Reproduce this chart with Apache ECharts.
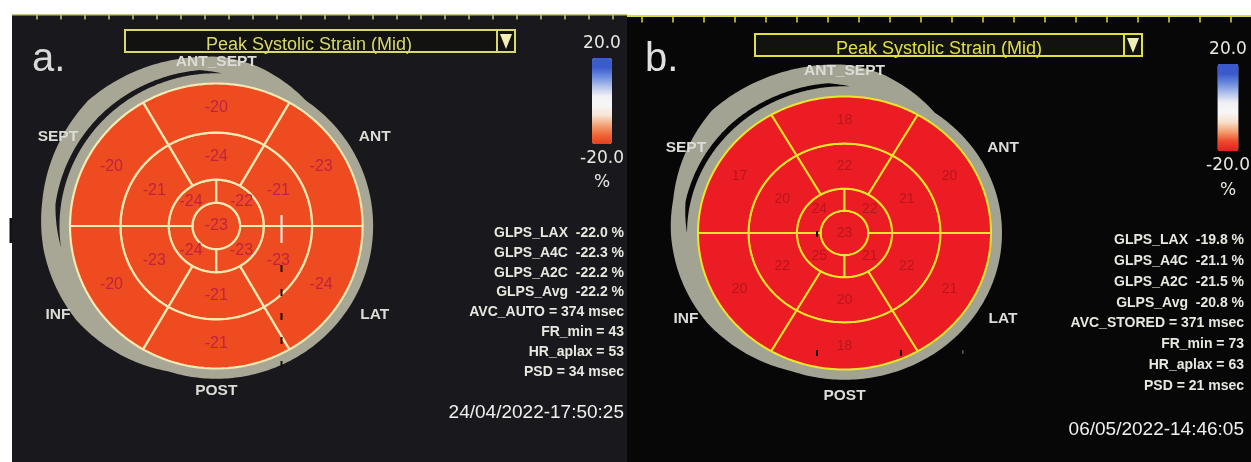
<!DOCTYPE html>
<html><head><meta charset="utf-8">
<script src="https://cdn.jsdelivr.net/npm/echarts@6/dist/echarts.min.js"></script>
<style>html,body{margin:0;padding:0;background:#fff}#c{width:1251px;height:462px}</style>
</head><body><div id="c"></div>
<script>
// ---------------- data ----------------
const wallNames  = ['ANT_SEPT','SEPT','INF','POST','LAT','ANT'];
const wallAngles = [90,150,210,270,330,30];
// segment order: basal/mid = [ANT_SEPT, SEPT, INF, POST, LAT, ANT]; apical = [UL, LL, LR, UR]
const basalA  = [-20,-20,-20,-21,-24,-23];
const midA    = [-24,-21,-23,-21,-23,-21];
const apicalA = [-24,-24,-23,-22];
const apexA   = [-23];
const basalB  = [18,17,20,18,21,20];
const midB    = [22,20,22,20,22,21];
const apicalB = [24,25,21,22];
const apexB   = [23];
const scaleMax = 20, scaleMin = -20;
const scaleText = ['20.0','-20.0'];
const scaleUnit = '%';
const glpsNames = ['GLPS_LAX','GLPS_A4C','GLPS_A2C','GLPS_Avg'];
const glpsA = [-22.0,-22.3,-22.2,-22.2];
const glpsB = [-19.8,-21.1,-21.5,-20.8];
const infoA = ['AVC_AUTO = 374 msec','FR_min = 43','HR_aplax = 53','PSD = 34 msec'];
const infoB = ['AVC_STORED = 371 msec','FR_min = 73','HR_aplax = 63','PSD = 21 msec'];
const dateA = '24/04/2022-17:50:25';
const dateB = '06/05/2022-14:46:05';
const titleText = 'Peak Systolic Strain (Mid)';
const panelLabels = ['a.','b.'];

// ---------------- layout ----------------
const RING_R = [0, 0.163, 0.325, 0.655, 1.0];
const RING_N = [1, 4, 6, 6];
const RING_START = [0, 90, 60, 60];
const EXT = 1.4;
const P = [
  {cx:216.3, cy:226, rx:146.3, ry:142.5, bg:'#19191d', fill:'#ee4c20', line:'#f3e9b2', lw:2.2,
   txt:'#c0233f', font:'16px "Liberation Sans"', grey:'#a8a694', wallR:1.072,
   cres:[[55,0,0],[75,0.08,0],[88,0.115,0],[96,0.12,0.028],[135,0.17,0.038],[172,0.13,0.038],[188,0.12,0],[215,0.09,0],[252,0,0]],
   dirTB:1.155, dirSide:1.25, dirFill:'#dcdcd6',
   basal:basalA, mid:midA, apical:apicalA, apex:apexA},
  {cx:844.5, cy:233, rx:146.5, ry:136.5, bg:'#070707', fill:'#ec1c24', line:'#ece62a', lw:2,
   txt:'#b8161c', font:'14px "Liberation Sans"', grey:'#a3a394', wallR:1.075,
   cres:[[55,0,0],[78,0.12,0],[88,0.155,0],[96,0.165,0.028],[135,0.2,0.038],[168,0.12,0.034],[180,0.11,0],[215,0.07,0],[250,0,0]],
   dirTB:1.19, dirSide:1.25, dirFill:'#dcdcd8',
   basal:basalB, mid:midB, apical:apicalB, apex:apexB}
];

function interp(cp, th, j){
  if (th <= cp[0][0] || th >= cp[cp.length-1][0]) return 0;
  for (let i=0;i<cp.length-1;i++){
    if (th>=cp[i][0] && th<=cp[i+1][0]){
      const t=(th-cp[i][0])/(cp[i+1][0]-cp[i][0]);
      return cp[i][j]+(cp[i+1][j]-cp[i][j])*t;
    }
  }
  return 0;
}
function mkPt(api){
  return (r,a)=>api.coord([r*Math.cos(a*Math.PI/180), r*Math.sin(a*Math.PI/180)]);
}
function wallRender(p){
  return function(params, api){
    const pt = mkPt(api);
    const outer=[];
    for (let a=0;a<360;a+=1) outer.push(pt(p.wallR+interp(p.cres,a,1),a));
    let gi0=-1, gi1=-1;
    p.cres.forEach((c,i)=>{ if (c[2]>0){ if(gi0<0) gi0=i; gi1=i; } });
    const g0=p.cres[gi0-1][0], g1=p.cres[gi1+1][0];
    const gap=[];
    for (let a=g0;a<=g1;a+=0.5) gap.push(pt(p.wallR+interp(p.cres,a,2),a));
    for (let a=g1;a>=g0;a-=0.5) gap.push(pt(p.wallR,a));
    const children=[
      {type:'polygon', shape:{points:outer}, style:{fill:p.grey}},
      {type:'polygon', shape:{points:gap}, style:{fill:p.bg}}
    ];
    wallNames.forEach((nm,i)=>{
      const a=wallAngles[i];
      const r=(a===90||a===270)?p.dirTB:p.dirSide;
      const c=pt(r,a);
      children.push({type:'text', x:c[0], y:c[1], z2:5, style:{text:nm, align:'center', verticalAlign:'middle',
        fill:p.dirFill, font:'bold 15.5px "Liberation Sans"'}});
    });
    return {type:'group', children};
  };
}
function segRender(p){
  return function(params, api){
    const pt = mkPt(api);
    const ring=api.value(0), k=api.value(1), v=api.value(2);
    const n=RING_N[ring], r0=RING_R[ring], r1=RING_R[ring+1];
    const pts=[]; let la=0, lr=0;
    if (n===1){
      for (let a=0;a<360;a+=2) pts.push(pt(r1,a));
    } else {
      const a0=RING_START[ring]+k*360/n, a1=a0+360/n, st=45;
      for (let i=0;i<=st;i++) pts.push(pt(r1,a0+(a1-a0)*i/st));
      for (let i=st;i>=0;i--) pts.push(pt(r0,a0+(a1-a0)*i/st));
      la=(a0+a1)/2; lr=(r0+r1)/2;
    }
    const c=pt(lr,la);
    return {type:'group', children:[
      {type:'polygon', shape:{points:pts}, style:{fill:p.fill, stroke:p.line, lineWidth:p.lw, lineJoin:'round'}},
      {type:'text', x:c[0], y:c[1], z2:5, style:{text:String(v), align:'center', verticalAlign:'middle', fill:p.txt, font:p.font}}
    ]};
  };
}
function segData(p){
  const rings=[p.apex,p.apical,p.mid,p.basal];
  const out=[];
  rings.forEach((arr,r)=>arr.forEach((v,k)=>out.push([r,k,v])));
  return out;
}

const grids=[], xAxes=[], yAxes=[], series=[];
P.forEach((p,i)=>{
  grids.push({left:p.cx-EXT*p.rx, top:p.cy-EXT*p.ry, width:2*EXT*p.rx, height:2*EXT*p.ry, outerBoundsMode:'none', containLabel:false});
  xAxes.push({type:'value', gridIndex:i, min:-EXT, max:EXT, show:false});
  yAxes.push({type:'value', gridIndex:i, min:-EXT, max:EXT, show:false});
  series.push({type:'custom', xAxisIndex:i, yAxisIndex:i, renderItem:wallRender(p), data:[[0,0]], z:1, silent:true});
  series.push({type:'custom', xAxisIndex:i, yAxisIndex:i, renderItem:segRender(p), data:segData(p), z:2, silent:true});
});
series.push({type:'scatter', xAxisIndex:0, yAxisIndex:0, data:[], silent:true});
const dummyIdx = series.length-1;

// ---------------- decorations ----------------
const g=[];
g.push({type:'rect', shape:{x:12,y:14,width:615,height:448}, style:{fill:P[0].bg}});
g.push({type:'rect', shape:{x:627,y:15,width:624,height:447}, style:{fill:P[1].bg}});
// rulers
g.push({type:'line', shape:{x1:12,y1:14.8,x2:627,y2:14.8}, style:{stroke:'#c4c47c',lineWidth:1.5}});
for (let x=37;x<627;x+=24) g.push({type:'line', shape:{x1:x,y1:14,x2:x,y2:19.5}, style:{stroke:'#c4c47c',lineWidth:1.5}});
g.push({type:'line', shape:{x1:627,y1:16,x2:1251,y2:16}, style:{stroke:'#d8d844',lineWidth:2}});
for (let x=642;x<1251;x+=31) g.push({type:'line', shape:{x1:x,y1:15,x2:x,y2:22.5}, style:{stroke:'#d8d844',lineWidth:1.5}});
// title boxes
[[125,30,390,22,'#d8d86c',309,45],[755,34,387,22,'#e0e040',939,49]].forEach(b=>{
  const [x,y,w,h,col,tx,ty]=b;
  g.push({type:'rect', shape:{x,y,width:w,height:h}, style:{fill:'#121210',stroke:col,lineWidth:2}});
  g.push({type:'text', x:tx, y:ty, style:{text:titleText, align:'center', verticalAlign:'middle', fill:col, font:'18px "Liberation Sans"'}});
  g.push({type:'line', shape:{x1:x,y1:y+h,x2:x+w,y2:y+h}, style:{stroke:col,lineWidth:2}});
  g.push({type:'rect', shape:{x:x+w-18,y,width:18,height:h}, style:{fill:'#121210',stroke:col,lineWidth:2}});
  g.push({type:'polygon', shape:{points:[[x+w-15,y+4],[x+w-3,y+4],[x+w-9,y+h-3]]}, style:{fill:'#f0eeb4'}});
});
// panel labels
g.push({type:'text', x:32, y:60, style:{text:panelLabels[0], align:'left', verticalAlign:'middle', fill:'#d8d8d8', font:'40px "Liberation Sans"'}});
g.push({type:'text', x:645, y:60, style:{text:panelLabels[1], align:'left', verticalAlign:'middle', fill:'#e0e0e0', font:'40px "Liberation Sans"'}});
// colorbar unit
g.push({type:'text', x:602, y:183, style:{text:scaleUnit, align:'center', verticalAlign:'middle', fill:'#e8e8e2', font:'17px "DejaVu Sans"'}});
g.push({type:'text', x:1228, y:191, style:{text:scaleUnit, align:'center', verticalAlign:'middle', fill:'#e8e8e2', font:'17px "DejaVu Sans"'}});
// stats
function stats(right, y0, dy, vals, info, date, dateY){
  const lines = glpsNames.map((n,i)=>n+'  '+vals[i].toFixed(1)+' %').concat(info);
  lines.forEach((t,i)=>g.push({type:'text', x:right, y:y0+i*dy, style:{text:t, align:'right', verticalAlign:'middle', fill:'#e8e8e0', font:'bold 14px "Liberation Sans"'}}));
  g.push({type:'text', x:right, y:dateY, style:{text:date, align:'right', verticalAlign:'middle', fill:'#f0f0f0', font:'19px "Liberation Sans"'}});
}
stats(624, 233, 19.85, glpsA, infoA, dateA, 413);
stats(1244, 240, 20.9, glpsB, infoB, dateB, 430);
// image artefacts
g.push({type:'rect', z:100, shape:{x:9.5,y:218,width:2.5,height:25}, style:{fill:'#111'}});
g.push({type:'rect', z:100, shape:{x:280.5,y:215,width:2,height:28}, style:{fill:'#ffffff'}});
g.push({type:'line', z:100, shape:{x1:281.5,y1:265,x2:281.5,y2:368}, style:{stroke:'#111',lineWidth:2,lineDash:[7,17]}});
[[816,231],[816,350],[900,350]].forEach(m=>g.push({type:'rect', z:100, shape:{x:m[0],y:m[1],width:2,height:6}, style:{fill:'#111'}}));
g.push({type:'rect', z:100, shape:{x:962,y:350,width:1.5,height:4}, style:{fill:'#555'}});

const vmBase = {type:'continuous', min:scaleMin, max:scaleMax, seriesIndex:dummyIdx, calculable:false, orient:'vertical',
  itemWidth:20, itemHeight:86, text:scaleText, textGap:6, padding:0, hoverLink:false,
  textStyle:{color:'#e8e8e2', fontSize:17, fontFamily:'DejaVu Sans'}};

const option = {
  animation:false,
  backgroundColor:'#ffffff',
  grid:grids, xAxis:xAxes, yAxis:yAxes, series,
  graphic:[{elements:g}],
  visualMap:[
    Object.assign({}, vmBase, {left:580, top:35, inRange:{color:['#e63d1c','#ef6a38','#f3a57a','#f8e4d4','#f6f6f6','#f2f2f6','#b4c2ea','#6f8ee0','#3b5ccc','#3b5ccc']}}),
    Object.assign({}, vmBase, {left:1206, top:41, itemHeight:87, itemWidth:21, inRange:{color:['#e81e1e','#ee4a2c','#f2a070','#f8e0cc','#f7f7f7','#f0f0f6','#b0c0ea','#6a8ade','#3a5acc','#3a5acc']}})
  ]
};
const chart = echarts.init(document.getElementById('c'));
chart.setOption(option);
</script></body></html>
